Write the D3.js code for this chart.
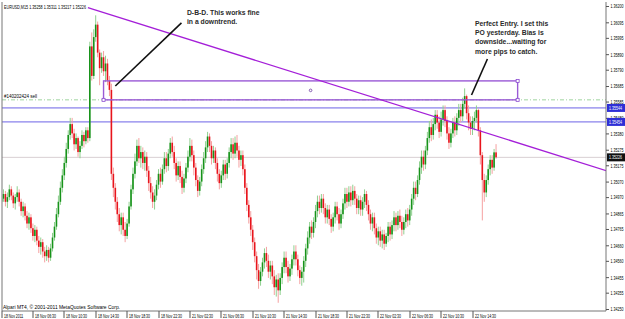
<!DOCTYPE html>
<html>
<head>
<meta charset="utf-8">
<script src="https://cdn.jsdelivr.net/npm/d3@7"></script>
<style>
  body { margin: 0; background: #fff; }
  svg { display: block; font-family: "Liberation Sans", Arial, sans-serif; }
</style>
</head>
<body>
<svg width="625" height="319"></svg>
<script>
// EURUSD M15, 18-22 Nov 2011
const firstOpen = 1.3494;
const closes = [
1.3496,1.3499,1.3494,1.3497,1.3502,1.3498,1.3493,1.3497,1.3500,1.3494,
1.3488,1.3491,1.3485,1.3480,1.3484,1.3477,1.3472,1.3476,1.3469,1.3465,
1.3468,1.3462,1.3459,1.3463,1.3458,1.3464,1.3471,1.3478,1.3486,1.3494,
1.3503,1.3511,1.3519,1.3528,1.3537,1.3544,1.3538,1.3531,1.3535,1.3526,
1.3530,1.3537,1.3533,1.3540,1.3535,1.3594,1.3575,1.3600,1.3608,1.3590,
1.3580,1.3587,1.3578,1.3583,1.3572,1.3566,1.3512,1.3503,1.3494,1.3486,
1.3479,1.3484,1.3476,1.3472,1.3480,1.3491,1.3502,1.3512,1.3520,1.3530,
1.3522,1.3526,1.3519,1.3523,1.3514,1.3506,1.3500,1.3494,1.3498,1.3505,
1.3512,1.3507,1.3515,1.3522,1.3517,1.3525,1.3532,1.3526,1.3519,1.3511,
1.3517,1.3510,1.3503,1.3509,1.3516,1.3523,1.3530,1.3524,1.3516,1.3508,
1.3501,1.3507,1.3515,1.3522,1.3529,1.3536,1.3530,1.3522,1.3527,1.3519,
1.3512,1.3506,1.3511,1.3518,1.3512,1.3519,1.3526,1.3531,1.3525,1.3532,
1.3527,1.3521,1.3524,1.3515,1.3503,1.3492,1.3484,1.3476,1.3468,1.3459,
1.3450,1.3443,1.3449,1.3455,1.3461,1.3456,1.3449,1.3453,1.3446,1.3439,
1.3444,1.3437,1.3445,1.3452,1.3458,1.3452,1.3446,1.3451,1.3457,1.3462,
1.3457,1.3450,1.3445,1.3449,1.3456,1.3464,1.3471,1.3478,1.3474,1.3481,
1.3488,1.3494,1.3490,1.3496,1.3490,1.3484,1.3489,1.3483,1.3478,1.3484,
1.3491,1.3486,1.3480,1.3486,1.3493,1.3499,1.3494,1.3500,1.3495,1.3501,
1.3496,1.3490,1.3495,1.3489,1.3494,1.3499,1.3492,1.3486,1.3480,1.3484,
1.3477,1.3471,1.3475,1.3469,1.3473,1.3467,1.3472,1.3478,1.3473,1.3479,
1.3484,1.3479,1.3485,1.3481,1.3476,1.3481,1.3486,1.3482,1.3489,1.3496,
1.3503,1.3499,1.3508,1.3516,1.3523,1.3518,1.3527,1.3535,1.3542,1.3537,
1.3544,1.3550,1.3545,1.3539,1.3547,1.3553,1.3546,1.3538,1.3532,1.3538,
1.3545,1.3540,1.3548,1.3553,1.3549,1.3557,1.3562,1.3551,1.3545,1.3541,
1.3546,1.3548,1.3553,1.3540,1.3524,1.3508,1.3500,1.3508,1.3515,1.3521,
1.3516,1.35258,1.35226];
const highs = [
1.3500,1.3502,1.3501,1.3500,1.3505,1.3504,1.3500,1.3499,1.3504,1.3502,
1.3496,1.3494,1.3493,1.3488,1.3487,1.3486,1.3480,1.3479,1.3478,1.3472,
1.3471,1.3470,1.3465,1.3466,1.3465,1.3467,1.3474,1.3481,1.3490,1.3498,
1.3507,1.3515,1.3523,1.3532,1.3540,1.3548,1.3548,1.3541,1.3538,1.3536,
1.3533,1.3540,1.3539,1.3542,1.3542,1.3597,1.3603,1.3605,1.3614,1.3610,
1.3592,1.3590,1.3591,1.3588,1.3586,1.3575,1.3570,1.3516,1.3506,1.3497,
1.3490,1.3487,1.3487,1.3481,1.3483,1.3494,1.3505,1.3516,1.3525,1.3534,
1.3535,1.3530,1.3529,1.3527,1.3526,1.3517,1.3510,1.3504,1.3502,1.3508,
1.3515,1.3516,1.3518,1.3526,1.3526,1.3528,1.3535,1.3536,1.3530,1.3522,
1.3520,1.3520,1.3514,1.3512,1.3519,1.3527,1.3535,1.3534,1.3527,1.3519,
1.3511,1.3510,1.3518,1.3526,1.3533,1.3539,1.3538,1.3533,1.3530,1.3529,
1.3522,1.3515,1.3514,1.3521,1.3521,1.3522,1.3529,1.3535,1.3535,1.3536,
1.3537,1.3530,1.3527,1.3527,1.3518,1.3506,1.3495,1.3488,1.3479,1.3471,
1.3462,1.3454,1.3452,1.3458,1.3464,1.3465,1.3460,1.3456,1.3456,1.3450,
1.3447,1.3448,1.3448,1.3455,1.3462,1.3462,1.3456,1.3454,1.3460,1.3466,
1.3466,1.3460,1.3453,1.3452,1.3459,1.3467,1.3475,1.3481,1.3482,1.3484,
1.3492,1.3498,1.3498,1.3499,1.3499,1.3493,1.3492,1.3492,1.3486,1.3487,
1.3494,1.3494,1.3490,1.3489,1.3496,1.3503,1.3503,1.3504,1.3504,1.3505,
1.3504,1.3499,1.3498,1.3498,1.3497,1.3502,1.3501,1.3495,1.3489,1.3487,
1.3487,1.3480,1.3478,1.3478,1.3476,1.3476,1.3474,1.3481,1.3481,1.3482,
1.3488,1.3487,1.3488,1.3489,1.3485,1.3484,1.3489,1.3490,1.3492,1.3499,
1.3507,1.3507,1.3511,1.3520,1.3527,1.3527,1.3530,1.3539,1.3546,1.3547,
1.3548,1.3553,1.3553,1.3549,1.3552,1.3556,1.3556,1.3549,1.3542,1.3541,
1.3548,1.3549,1.3551,1.3557,1.3557,1.3561,1.3567,1.3563,1.3556,1.3549,
1.3549,1.3552,1.3556,1.3554,1.3542,1.3526,1.3512,1.3511,1.3518,1.3524,
1.3524,1.3528,1.35311];
const lows = [
1.3492,1.3494,1.3491,1.3490,1.3495,1.3495,1.3490,1.3489,1.3494,1.3491,
1.3485,1.3484,1.3482,1.3477,1.3476,1.3474,1.3469,1.3468,1.3466,1.3461,
1.3460,1.3458,1.3455,1.3456,1.3455,1.3456,1.3462,1.3469,1.3476,1.3484,
1.3492,1.3500,1.3508,1.3516,1.3525,1.3534,1.3535,1.3527,1.3528,1.3523,
1.3522,1.3528,1.3529,1.3531,1.3532,1.3533,1.3572,1.3573,1.3597,1.3587,
1.3569,1.3577,1.3575,1.3571,1.3569,1.3562,1.3508,1.3497,1.3489,1.3481,
1.3475,1.3473,1.3472,1.3468,1.3470,1.3478,1.3489,1.3499,1.3509,1.3517,
1.3519,1.3516,1.3515,1.3514,1.3510,1.3501,1.3496,1.3490,1.3489,1.3495,
1.3502,1.3503,1.3505,1.3512,1.3513,1.3514,1.3522,1.3523,1.3515,1.3507,
1.3508,1.3506,1.3499,1.3500,1.3506,1.3513,1.3520,1.3520,1.3511,1.3504,
1.3497,1.3498,1.3504,1.3512,1.3519,1.3526,1.3526,1.3518,1.3519,1.3515,
1.3507,1.3502,1.3503,1.3508,1.3508,1.3509,1.3516,1.3522,1.3521,1.3522,
1.3523,1.3516,1.3517,1.3511,1.3499,1.3488,1.3480,1.3472,1.3463,1.3455,
1.3444,1.3438,1.3440,1.3446,1.3451,1.3452,1.3445,1.3444,1.3441,1.3434,
1.3433,1.3429,1.3434,1.3441,1.3448,1.3448,1.3442,1.3443,1.3447,1.3453,
1.3453,1.3446,1.3441,1.3440,1.3442,1.3452,1.3460,1.3467,1.3470,1.3471,
1.3477,1.3484,1.3486,1.3487,1.3486,1.3480,1.3480,1.3479,1.3474,1.3475,
1.3480,1.3482,1.3476,1.3477,1.3483,1.3489,1.3490,1.3491,1.3491,1.3492,
1.3492,1.3486,1.3486,1.3485,1.3485,1.3490,1.3488,1.3482,1.3476,1.3475,
1.3473,1.3467,1.3466,1.3465,1.3464,1.3463,1.3465,1.3468,1.3469,1.3470,
1.3475,1.3475,1.3476,1.3477,1.3472,1.3473,1.3477,1.3478,1.3479,1.3485,
1.3492,1.3495,1.3497,1.3505,1.3512,1.3514,1.3515,1.3524,1.3532,1.3533,
1.3534,1.3540,1.3541,1.3535,1.3536,1.3543,1.3542,1.3534,1.3528,1.3529,
1.3535,1.3536,1.3537,1.3543,1.3545,1.3546,1.3554,1.3547,1.3540,1.3537,
1.3537,1.3540,1.3545,1.3536,1.3518,1.3482,1.3494,1.3497,1.3505,1.3511,
1.3512,1.3514,1.35217];

const timeLabels = ["18 Nov 2011","18 Nov 06:30","18 Nov 10:30","18 Nov 14:30","18 Nov 18:30",
  "18 Nov 22:30","21 Nov 02:30","21 Nov 06:30","21 Nov 10:30","21 Nov 14:30","21 Nov 18:30",
  "21 Nov 22:30","22 Nov 02:30","22 Nov 06:30","22 Nov 10:30","22 Nov 14:30"];
const priceTicks = [1.36200,1.36095,1.35995,1.35890,1.35790,1.35685,1.35585,1.35480,1.35380,
  1.35275,1.35175,1.35070,1.34970,1.34865,1.34765,1.34660,1.34560,1.34455,1.34355,1.34250];

const header = "EURUSD,M15  1.35258 1.35311 1.35217 1.35226";
const copyright = "Alpari MT4, \u00a9 2001-2011 MetaQuotes Software Corp.";
const sellLevel = 1.35596, sellLabel = "#140202424 sell";
const blueLevels = [1.35544, 1.35454];
const bidPrice = 1.35226;
const zone = {from: 52, to: 263, top: 1.35718, bottom: 1.35596};
const trend = [[44, 1.3619], [200, 1.3557]];
const pointers = [[[58, 1.35685], [91.7, 1.36091]], [[239.5, 1.35627], [247.6, 1.35859]]];
const notes = [
  {bar: 94.5, price: 1.36142, lines: ["D-B-D. This works fine", "in a downtrend."]},
  {bar: 241.3, price: 1.36072, lines: ["Perfect Entry. I set this", "PO yesterday. Bias is",
    "downside...waiting for", "more pips to catch."]}
];

const svg = d3.select("svg");
const pL = 2, pR = 606, pT = 2, pB = 311;

const x = d3.scaleLinear().domain([0, 240]).range([1.5, 472.5]);
const y = d3.scaleLinear().domain([1.34250, 1.36200]).range([309, 6]);
const fmt = d3.format(".5f");

const bars = closes.map((c, i) => ({
  i, o: i ? closes[i - 1] : firstOpen, h: highs[i], l: lows[i], c
}));

// small MT4-style text is narrow; squeeze to a given width
function small(sel, width) {
  return sel.attr("font-size", 5.8).attr("textLength", width)
    .attr("lengthAdjust", "spacingAndGlyphs");
}

svg.append("defs").append("clipPath").attr("id", "plot")
  .append("rect").attr("x", pL).attr("y", pT)
  .attr("width", pR - pL).attr("height", pB - pT);

const plot = svg.append("g").attr("clip-path", "url(#plot)");

// horizontal levels
plot.append("line")
  .attr("x1", pL).attr("x2", pR)
  .attr("y1", y(bidPrice)).attr("y2", y(bidPrice))
  .attr("stroke", "#d8cfd2").attr("stroke-width", 1);

plot.append("line")
  .attr("x1", pL).attr("x2", pR)
  .attr("y1", y(sellLevel)).attr("y2", y(sellLevel))
  .attr("stroke", "#9fd49f").attr("stroke-width", 1)
  .attr("stroke-dasharray", "4,2,1,2");

plot.selectAll(".blue").data(blueLevels).enter().append("line")
  .attr("x1", pL).attr("x2", pR)
  .attr("y1", d => y(d)).attr("y2", d => y(d))
  .attr("stroke", "#6c62e6").attr("stroke-width", 1);

// candles
const up = d => d.c >= d.o;
plot.append("g").selectAll("line").data(bars).enter().append("line")
  .attr("x1", d => x(d.i)).attr("x2", d => x(d.i))
  .attr("y1", d => y(d.h)).attr("y2", d => y(d.l))
  .attr("stroke", d => up(d) ? "#8fd08f" : "#f5a0a0")
  .attr("stroke-width", 1);

plot.append("g").selectAll("rect").data(bars).enter().append("rect")
  .attr("x", d => x(d.i) - 0.8)
  .attr("width", 1.6)
  .attr("y", d => y(Math.max(d.o, d.c)))
  .attr("height", d => Math.max(1, Math.abs(y(d.o) - y(d.c))))
  .attr("fill", d => up(d) ? "#17931a" : "#e8141c");

// zone rectangle
plot.append("rect")
  .attr("x", x(zone.from)).attr("y", y(zone.top))
  .attr("width", x(zone.to) - x(zone.from))
  .attr("height", y(zone.bottom) - y(zone.top))
  .attr("fill", "none").attr("stroke", "#9a5ad6").attr("stroke-width", 1.4);

plot.selectAll(".handle")
  .data([[zone.from, zone.bottom], [zone.to, zone.top], [zone.to, zone.bottom]])
  .enter().append("rect")
  .attr("x", d => x(d[0]) - 1.5).attr("y", d => y(d[1]) - 1.5)
  .attr("width", 3).attr("height", 3)
  .attr("fill", "#fff").attr("stroke", "#8a4ad0").attr("stroke-width", 0.8);

plot.append("circle")
  .attr("cx", x((zone.from + zone.to) / 2))
  .attr("cy", y((zone.top + zone.bottom) / 2))
  .attr("r", 1.3).attr("fill", "none").attr("stroke", "#6a3aa0").attr("stroke-width", 0.8);

// trend line as a ray
const slope = (trend[1][1] - trend[0][1]) / (trend[1][0] - trend[0][0]);
const endBar = x.invert(pR + 5);
plot.append("line")
  .attr("x1", x(trend[0][0])).attr("y1", y(trend[0][1]))
  .attr("x2", x(endBar)).attr("y2", y(trend[0][1] + slope * (endBar - trend[0][0])))
  .attr("stroke", "#a41fd8").attr("stroke-width", 1.3);

// pointer lines
plot.selectAll(".ptr").data(pointers).enter().append("line")
  .attr("x1", d => x(d[0][0])).attr("y1", d => y(d[0][1]))
  .attr("x2", d => x(d[1][0])).attr("y2", d => y(d[1][1]))
  .attr("stroke", "#111").attr("stroke-width", 1.6);

// notes
notes.forEach(n => {
  const t = plot.append("text")
    .attr("x", x(n.bar)).attr("y", y(n.price))
    .attr("font-size", 6.8).attr("font-weight", "bold").attr("fill", "#2b2b2b");
  n.lines.forEach((s, k) => {
    t.append("tspan").attr("x", x(n.bar)).attr("dy", k ? 9.3 : 0).text(s);
  });
});

small(plot.append("text").attr("x", 4).attr("y", 8.5), 82).attr("fill", "#000").text(header);
small(plot.append("text").attr("x", 4).attr("y", y(sellLevel) - 1.5), 33).attr("fill", "#000").text(sellLabel);
small(plot.append("text").attr("x", 3).attr("y", 308.5), 117).attr("fill", "#000").text(copyright);

// frame
svg.append("path")
  .attr("d", `M${pL},${pT}V${pB}H${pR}V${pT}`)
  .attr("fill", "none").attr("stroke", "#777").attr("stroke-width", 1);

// price axis
const yAxis = svg.append("g")
  .attr("transform", `translate(${pR},0)`)
  .call(d3.axisRight(y).tickValues(priceTicks).tickSize(3).tickPadding(1.5).tickFormat(fmt));
yAxis.select(".domain").remove();
yAxis.selectAll("line").attr("stroke", "#555");
small(yAxis.selectAll("text"), 13).attr("fill", "#000")
  .attr("font-family", "Liberation Sans, Arial, sans-serif");

// axis price boxes (drawn over the tick labels, as in the terminal)
const boxes = blueLevels.map(v => ({v, fill: "#2f2fd6"})).concat([{v: bidPrice, fill: "#111"}]);
const bg = svg.append("g").selectAll("g").data(boxes).enter().append("g")
  .attr("transform", d => `translate(${pR + 1},${y(d.v)})`);
bg.append("rect").attr("x", 0).attr("y", -4).attr("width", 18).attr("height", 8)
  .attr("fill", d => d.fill);
small(bg.append("text").attr("x", 2).attr("y", 2), 13).attr("fill", "#fff")
  .text(d => fmt(d.v));

// time axis
const tk = svg.append("g").selectAll("g").data(timeLabels).enter().append("g")
  .attr("transform", (d, k) => `translate(${Math.round(x(k * 16))},0)`);
tk.append("line").attr("y1", pB).attr("y2", pB + 7).attr("stroke", "#555");
tk.append("text").attr("x", 2).attr("y", 317.5).attr("fill", "#000")
  .attr("font-size", 5.6).attr("textLength", d => d.length * 1.75)
  .attr("lengthAdjust", "spacingAndGlyphs")
  .text(d => d);
</script>
</body>
</html>
